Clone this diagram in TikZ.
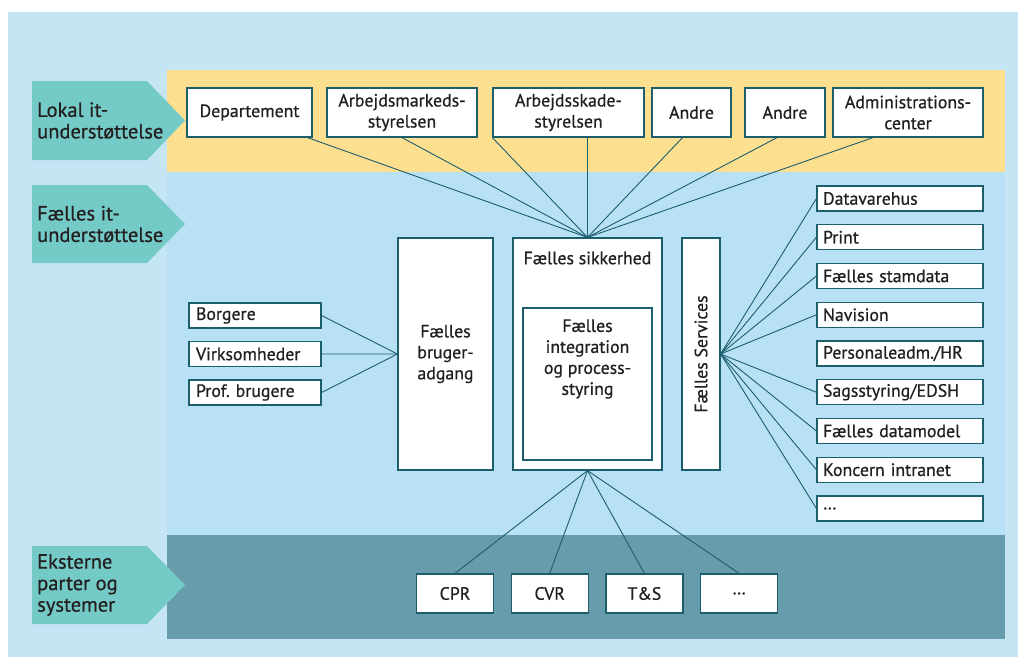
\documentclass[tikz,border=0pt]{standalone}
\usepackage{fontspec}
\setmainfont{PT Sans}[FakeBold=0.7]
\usetikzlibrary{chains,positioning}

\definecolor{bgblue}{HTML}{C5E5F5}
\definecolor{midblue}{HTML}{B8E1F6}
\definecolor{lokalyellow}{HTML}{FDE08F}
\definecolor{ekstteal}{HTML}{669CAB}
\definecolor{arrowteal}{HTML}{74CAC6}
\definecolor{linecol}{HTML}{1D5E6D}
\definecolor{txtcol}{HTML}{231F20}

\begin{document}
\frenchspacing
\begin{tikzpicture}[
x=1pt, y=-1pt,
mybox/.style={
  draw=linecol,
  line width=1.2pt,
  fill=white,
  text=txtcol,
  font=\fontsize{17.8}{21}\selectfont,
  align=center,
  inner sep=0pt
  },
mylist/.style={
  mybox,
  minimum height=25pt,
  text width=154pt,
  align=left,
  inner xsep=6pt
  },
mytext/.style={
  text=txtcol,
  font=\fontsize{17.8}{21}\selectfont,
  align=center,
  inner sep=0pt
  },
mylabel/.style={
  text=txtcol,
  font=\fontsize{20.5}{21.5}\selectfont,
  align=left,
  anchor=west,
  inner sep=0pt
  },
myarrow/.style={fill=arrowteal},
conn/.style={draw=linecol, line width=0.9pt}
]
\useasboundingbox (0,0) rectangle (1018,657);

% bands
\fill[bgblue] (8,12) rectangle (1018,657);
\fill[lokalyellow] (167,70) rectangle (1005,172);
\fill[midblue] (167,172) rectangle (1005,535);
\fill[ekstteal] (167,535) rectangle (1005,639);

% arrows
\foreach \Top/\Bot in {81/160, 185/263, 546/624}
  \fill[myarrow] (32,\Top) -- (147,\Top) -- (185,{(\Top+\Bot)/2}) -- (147,\Bot) -- (32,\Bot) -- cycle;
\node[mylabel] (lokal) at (37,120.5) {Lokal it-\\understøttelse};
\node[mylabel] (faelles) at (37,224) {Fælles it-\\understøttelse};
\node[mylabel] (ekst) at (37,585) {Eksterne\\parter og\\systemer};

% lokal it
\foreach \Name/\X/\W/\Text in {dep/249.5/125/Departement, ams/402/150/{Arbejdsmarkeds-\\styrelsen},
    ask/568.5/151/{Arbejdsskade-\\styrelsen}, and1/691.5/79/Andre, and2/785/80/Andre,
    adm/908/150/{Administrations-\\center}}
  \node[mybox, minimum width=\W pt, minimum height=49pt] (\Name) at (\X,112.5) {\Text};

% faelles it
\node[mybox, minimum width=95pt, minimum height=232pt] (bru) at (445.5,354) {Fælles\\bruger-\\adgang};
\node[mybox, minimum width=149pt, minimum height=232pt] (sik) at (587.5,354) {};
\node[mytext] (siklbl) at (587.5,258) {Fælles sikkerhed};
\node[mybox, minimum width=129pt, minimum height=152pt] (int) at (587.5,384) {};
\node[mytext] (intlbl) at (587.5,359) {Fælles\\integration\\og process-\\styring};
\node[mybox, rotate=90, minimum width=232pt, minimum height=38pt] (srv) at (701,354) {Fælles Services};

\begin{scope}[shift={(255,315.5)}, start chain=going below, node distance=12.3pt]
\foreach \Text [count=\i] in {Borgere, Virksomheder, Prof. brugere}
  \node[mylist, text width=118pt, inner xsep=7pt, on chain] (l\i) {\Text};
\end{scope}

\begin{scope}[shift={(900,198.5)}, start chain=going below, node distance=12.55pt]
\foreach \Text [count=\i] in {Datavarehus, Print, Fælles stamdata, Navision, Personaleadm./HR,
    Sagsstyring/EDSH, Fælles datamodel, Koncern intranet, …}
  \node[mylist, on chain] (r\i) {\Text};
\end{scope}

% eksterne
\begin{scope}[shift={(455,593.5)}, start chain=going right, node distance=16.5pt]
\foreach \Text [count=\i] in {CPR, CVR, T\&S, …}
  \node[mybox, minimum width=77pt, minimum height=39pt, on chain] (e\i) {\Text};
\end{scope}

% connectors
\path[conn]
  ([xshift=-5pt]dep.south east) edge (sik.north)
  (ams.south) edge (sik.north)
  (ask.south west) edge (sik.north)
  (sik.north |- ask.south) edge (sik.north)
  ([xshift=-9pt]and1.south) edge (sik.north)
  ([xshift=-8pt]and2.south) edge (sik.north)
  ([xshift=-35pt]adm.south) edge (sik.north);
\foreach \i in {1,2,3}
  \path[conn] (l\i.east) edge (bru.west);
\foreach \i in {1,2,3,4,6,7,8,9}
  \path[conn] (srv.south) edge (r\i.west);
\foreach \i in {1,...,4}
  \path[conn] (sik.south) edge (e\i.north);
\end{tikzpicture}
\end{document}
